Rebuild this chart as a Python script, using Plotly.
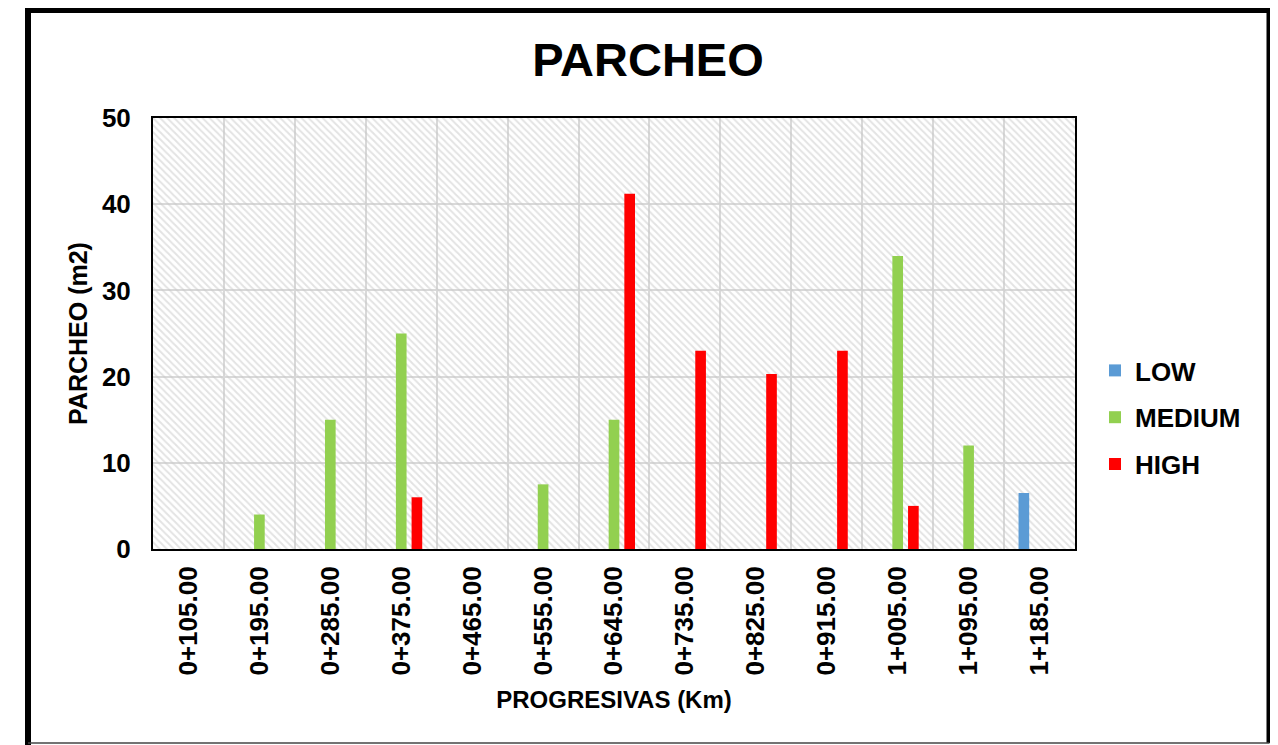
import plotly.graph_objects as go

categories = ["0+105.00", "0+195.00", "0+285.00", "0+375.00", "0+465.00", "0+555.00",
              "0+645.00", "0+735.00", "0+825.00", "0+915.00", "1+005.00", "1+095.00", "1+185.00"]
low = [None, None, None, None, None, None, None, None, None, None, None, None, 6.5]
medium = [None, 4, 15, 25, None, 7.5, 15, None, None, None, 34, 12, None]
high = [None, None, None, 6, None, None, 41.2, 23, 20.3, 23, 5, None, None]
series_names = ["LOW", "MEDIUM", "HIGH"]
colors = ["#5B9BD5", "#92D050", "#FF0000"]
y_ticks = [0, 10, 20, 30, 40, 50]
Y_MAX = 50

# page offset of the figure (browser body margin)
OFF = 8
W, H = 1278 - OFF, 745 - OFF
# plot area in screen pixels
SL, SR, ST, SB = 153, 1075, 118, 549
L, R, T, B = SL - OFF, SR - OFF, ST - OFF, SB - OFF
PW, PH = R - L, B - T


def px_x(p):
    return (p - SL) / PW


def px_y(p):
    return (SB - p) / PH


FONT = "Arial, Liberation Sans, sans-serif"

fig = go.Figure()

# hatched plot-area background (spans all categories)
fig.add_trace(go.Bar(
    x=[categories[0]], y=[Y_MAX], width=[len(categories)], offset=-0.5,
    marker=dict(color="rgba(0,0,0,0)", line=dict(width=0),
                pattern=dict(shape="\\", fgcolor="#c8c8c8", size=5, solidity=0.4)),
    showlegend=False, hoverinfo="skip", legendgroup="bg",
))

for name, vals, c in zip(series_names, [low, medium, high], colors):
    fig.add_trace(go.Bar(
        x=categories, y=vals, name=name, legendgroup=name,
        marker=dict(color=c, line=dict(width=0)),
    ))

fig.update_layout(
    width=W, height=H,
    margin=dict(l=L, r=W - R, t=T, b=H - B, autoexpand=False),
    paper_bgcolor="white", plot_bgcolor="white",
    barmode="group", bargap=0.337, bargroupgap=0.32,
    font=dict(family=FONT, color="black"),
    title=dict(text="<b>PARCHEO</b>", font=dict(size=47, family=FONT, color="black"),
               x=(648 - OFF) / W, xref="container", xanchor="center",
               y=1 - (60 - OFF) / H, yref="container", yanchor="middle"),
    legend=dict(x=px_x(1095), y=px_y(347), xanchor="left", yanchor="top",
                font=dict(size=26, family=FONT, color="black", weight="bold"),
                tracegroupgap=10, traceorder="grouped", bgcolor="rgba(0,0,0,0)"),
    xaxis=dict(
        type="category", categoryorder="array", categoryarray=categories,
        tickson="boundaries", ticks="", tickangle=-90,
        tickfont=dict(size=26, family=FONT, color="black", weight="bold"),
        ticklabelstandoff=5,
        showgrid=True, gridcolor="#d9d9d9", gridwidth=1.5,
        showline=True, linecolor="black", linewidth=2, mirror=True,
        title=dict(text="<b>PROGRESIVAS (Km)</b>", font=dict(size=24, family=FONT, color="black"),
                   standoff=17),
        automargin=False,
    ),
    yaxis=dict(
        range=[0, Y_MAX], tickvals=y_ticks, ticks="",
        tickfont=dict(size=26, family=FONT, color="black", weight="bold"),
        ticklabelstandoff=15,
        showgrid=True, gridcolor="#d9d9d9", gridwidth=1.5, zeroline=False,
        showline=True, linecolor="black", linewidth=2, mirror=True,
        title=dict(text="<b>PARCHEO (m2)</b>", font=dict(size=25, family=FONT, color="black"),
                   standoff=7),
        automargin=False,
    ),
)

# outer chart frame
frame = dict(type="line", xref="paper", yref="paper", line=dict(color="black", width=6), layer="above")
fig.add_shape(x0=px_x(28), x1=px_x(28), y0=px_y(7), y1=px_y(746), **frame)
fig.add_shape(x0=px_x(25), x1=px_x(1272.5), y0=px_y(10), y1=px_y(10), **frame)
fig.add_shape(x0=px_x(1269.5), x1=px_x(1269.5), y0=px_y(7), y1=px_y(743), **frame)
fig.add_shape(type="line", xref="paper", yref="paper", x0=px_x(28), x1=px_x(1269.5),
              y0=px_y(743), y1=px_y(743), line=dict(color="#444444", width=1.5))

fig.write_html("out.html")
